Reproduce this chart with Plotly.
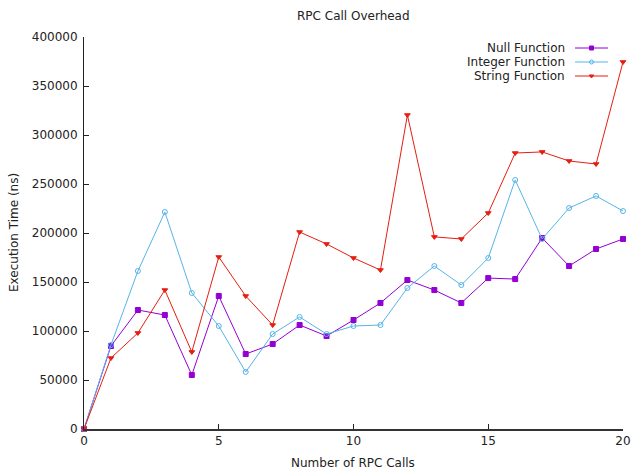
import plotly.graph_objects as go

calls = list(range(21))
null_fn = [0, 84700, 121400, 116300, 55100, 135700, 76500, 86700, 106100, 94900,
           111200, 128600, 152000, 141800, 128600, 154000, 153000, 194900, 166300, 183700, 193900]
int_fn = [0, 85700, 161200, 221400, 138800, 105100, 58200, 96900, 114300, 96900,
          105100, 106100, 143900, 166300, 146900, 174500, 254100, 193900, 225500, 237800, 222400]
str_fn = [0, 72400, 98000, 141800, 78600, 175500, 135700, 106100, 201000, 188800,
          174500, 162200, 320400, 196000, 193900, 220400, 281600, 282700, 273500, 270400, 374500]

names = ["Null Function", "Integer Function", "String Function"]
colors = ["#9400d3", "#56b4e9", "#e51e10"]
symbols = ["square", "circle-open", "triangle-down"]
sizes = [5, 5, 5]
x_ticks = [0, 5, 10, 15, 20]
y_ticks = list(range(0, 400001, 50000))

W, H = 634, 469
PL, PR, PT, PB = 84, 623, 37, 429          # plot area in page pixels
L, T, R, B = PL, PT, W - PR, H - PB
font = "DejaVu Sans"
txt = "#222"

def px_to_paper(px, py):
    return (px - PL) / (PR - PL), (PB - py) / (PB - PT)

fig = go.Figure()
for name, ys, c, s, sz in zip(names, [null_fn, int_fn, str_fn], colors, symbols, sizes):
    fig.add_trace(go.Scatter(x=calls, y=ys, mode="lines+markers", name=name,
                             line=dict(color=c, width=1),
                             marker=dict(symbol=s, size=sz, color=c, line=dict(color=c, width=1)),
                             showlegend=False, cliponaxis=False))

# legend drawn gnuplot-style on overlay axes mapped to page pixels
leg_y = [48, 62, 76]
for name, c, s, sz, ly in zip(names, colors, symbols, sizes, leg_y):
    fig.add_trace(go.Scatter(x=[575, 591.5, 608], y=[ly, ly, ly], xaxis="x2", yaxis="y2",
                             mode="lines", line=dict(color=c, width=1), showlegend=False,
                             hoverinfo="skip"))
    fig.add_trace(go.Scatter(x=[591.5], y=[ly], xaxis="x2", yaxis="y2", mode="markers",
                             marker=dict(symbol=s, size=sz - 1, color=c, line=dict(color=c, width=1)),
                             showlegend=False, hoverinfo="skip"))
    fig.add_annotation(x=567, y=ly, xref="x2", yref="y2", text=name, showarrow=False,
                       xanchor="right", yanchor="middle", font=dict(family=font, size=12, color=txt))

# titles
tx, ty = px_to_paper(353, 16)
fig.add_annotation(x=tx, y=ty, xref="paper", yref="paper", text="RPC Call Overhead", showarrow=False,
                   xanchor="center", yanchor="middle", font=dict(family=font, size=12, color=txt))
xx, xy = px_to_paper(353, 463)
fig.add_annotation(x=xx, y=xy, xref="paper", yref="paper", text="Number of RPC Calls", showarrow=False,
                   xanchor="center", yanchor="middle", font=dict(family=font, size=12, color=txt))
yx, yy = px_to_paper(14, 233)
fig.add_annotation(x=yx, y=yy, xref="paper", yref="paper", text="Execution Time (ns)", showarrow=False,
                   textangle=-90, xanchor="center", yanchor="middle",
                   font=dict(family=font, size=12, color=txt))

fig.update_layout(
    width=W, height=H, margin=dict(l=L, r=R, t=T, b=B, autoexpand=False),
    paper_bgcolor="white", plot_bgcolor="white",
    font=dict(family=font, size=12, color=txt),
    xaxis=dict(range=[0, 20], tickvals=x_ticks, ticks="inside", ticklen=5, tickcolor=txt,
               showline=True, linecolor="#333", linewidth=2, showgrid=False, zeroline=False,
               automargin=False, tickfont=dict(size=12), ticklabeloverflow="allow"),
    yaxis=dict(range=[0, 400000], tickvals=y_ticks, ticks="inside", ticklen=5, tickcolor=txt,
               showline=True, linecolor=txt, linewidth=1, showgrid=False, zeroline=False,
               automargin=False, tickfont=dict(size=12), tickformat="d", ticklabelstandoff=3,
               ticklabeloverflow="allow"),
    xaxis2=dict(range=[PL, PR], overlaying="x", visible=False),
    yaxis2=dict(range=[PB, PT], overlaying="y", visible=False),
)

fig.write_html(
    "out.html",
    config={"displayModeBar": False},
    post_script="document.body.style.margin='0';document.documentElement.style.overflow='hidden';",
)
